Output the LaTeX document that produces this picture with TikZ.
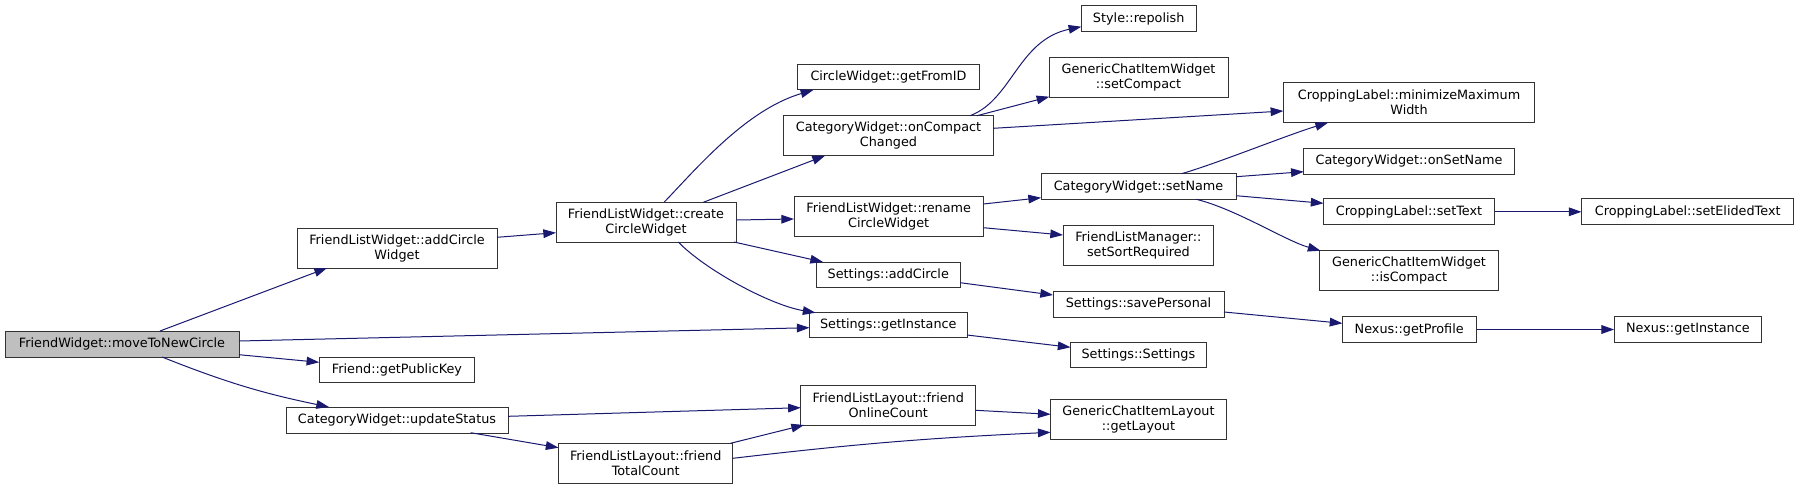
\documentclass[tikz,border=0pt]{standalone}
\usepackage{fontspec}
\setmainfont{DejaVu Sans}
\usetikzlibrary{arrows.meta,calc}
\definecolor{edgec}{HTML}{191970}
\definecolor{boxc}{HTML}{333333}
\definecolor{rootfill}{HTML}{BFBFBF}
\begin{document}
\begin{tikzpicture}[x=0.75pt,y=-0.75pt,
  gbox/.style 2 args={draw=boxc, fill=white, line width=0.75pt, inner sep=0pt,
    minimum width=#1*0.75pt, minimum height=#2*0.75pt, align=center,
    font=\fontsize{9.6pt}{11.25pt}\selectfont},
  rootbox/.style={fill=rootfill},
  edge/.style={draw=edgec, line width=0.75pt, -{Triangle[length=9.5pt,width=6.5pt]}}]
\fill[white] (0,0) rectangle (1799,490);
\useasboundingbox (0,0) rectangle (1799,490);

% column 1
\node[gbox={234}{26}, rootbox] (root) at (122,344) {FriendWidget::moveToNewCircle};
% column 2
\node[gbox={200}{40}] (addC) at (397,248) {FriendListWidget::addCircle\\Widget};
\node[gbox={155.5}{25}] (pubkey) at (397,369.5) {Friend::getPublicKey};
\node[gbox={222}{26}] (upd) at (397,420) {CategoryWidget::updateStatus};
% column 3
\node[gbox={180}{40}] (create) at (646,222) {FriendListWidget::create\\CircleWidget};
\node[gbox={174.5}{40.5}] (total) at (645.7,463.7) {FriendListLayout::friend\\TotalCount};
% column 4
\node[gbox={181.6}{25.3}] (fromid) at (888.5,77.3) {CircleWidget::getFromID};
\node[gbox={209.6}{40}] (oncomp) at (888.5,135.7) {CategoryWidget::onCompact\\Changed};
\node[gbox={189.3}{40}] (rename) at (888.7,216) {FriendListWidget::rename\\CircleWidget};
\node[gbox={143.7}{25.3}] (addcirc) at (888.3,274.7) {Settings::addCircle};
\node[gbox={157.5}{25.3}] (sinst) at (888.3,325.3) {Settings::getInstance};
\node[gbox={175}{39.7}] (online) at (888.3,405.2) {FriendListLayout::friend\\OnlineCount};
% column 5
\node[gbox={114.7}{25.6}] (repolish) at (1138.7,18.5) {Style::repolish};
\node[gbox={179}{40}] (setcomp) at (1138.5,77) {GenericChatItemWidget\\::setCompact};
\node[gbox={195}{25.6}] (setname) at (1138.5,186.5) {CategoryWidget::setName};
\node[gbox={150.7}{40}] (sortreq) at (1138.4,245) {FriendListManager::\\setSortRequired};
\node[gbox={171}{26}] (savepers) at (1138.5,304) {Settings::savePersonal};
\node[gbox={135.8}{25.3}] (settings) at (1138.4,354.7) {Settings::Settings};
\node[gbox={175.8}{40}] (layout) at (1138.5,419.7) {GenericChatItemLayout\\::getLayout};
% column 6
\node[gbox={251.4}{40}] (minimize) at (1409,102.7) {CroppingLabel::minimizeMaximum\\Width};
\node[gbox={210.6}{25.7}] (onsetname) at (1409,161.2) {CategoryWidget::onSetName};
\node[gbox={171}{25.7}] (settext) at (1409,211.8) {CroppingLabel::setText};
\node[gbox={178.8}{40}] (iscomp) at (1409,270.7) {GenericChatItemWidget\\::isCompact};
\node[gbox={133.6}{25.6}] (profile) at (1409.2,329.5) {Nexus::getProfile};
% column 7
\node[gbox={211.5}{25.7}] (elided) at (1687.7,211.8) {CroppingLabel::setElidedText};
\node[gbox={146.6}{25.6}] (ninst) at (1687.9,329.5) {Nexus::getInstance};

% edges
\draw[edge] ($(root)+(38,-13)$) -- ($(addC)+(-70,20)$);
\draw[edge] ($(root)+(117,-3)$) -- ($(sinst)+(-78.8,2.4)$);
\draw[edge] ($(root)+(117,10.7)$) -- ($(pubkey)+(-77.75,-7.2)$);
\draw[edge] ($(root)+(40,13)$) to[bend right=5] ($(upd)+(-68,-13)$);
\draw[edge] ($(addC)+(100,-10.7)$) -- ($(create)+(-90,10.7)$);
\draw[edge] ($(upd)+(111,-3.7)$) -- ($(online)+(-87.5,2.5)$);
\draw[edge] ($(upd)+(73.7,12.7)$) -- ($(total)+(-87.2,-16)$);
\draw[edge] ($(create)+(18.3,-20)$) .. controls +(31,-32) and +(-68,20) .. ($(fromid)+(-75.2,12.7)$);
\draw[edge] ($(create)+(57.3,-19.7)$) -- ($(oncomp)+(-63.5,20)$);
\draw[edge] ($(create)+(90,-2)$) -- ($(rename)+(-94.7,3)$);
\draw[edge] ($(create)+(88,20)$) -- ($(addcirc)+(-65.3,-12.7)$);
\draw[edge] ($(create)+(32.3,20)$) .. controls +(26.7,27.7) and +(-45.5,-7.7) .. ($(sinst)+(-72.8,-12.6)$);
\draw[edge] ($(oncomp)+(81.5,-20)$) .. controls +(42,-15.7) and +(-63.3,13.3) .. ($(repolish)+(-57.4,8.2)$);
\draw[edge] ($(oncomp)+(88.5,-20)$) -- ($(setcomp)+(-89.2,19.7)$);
\draw[edge] ($(oncomp)+(104.8,-7.4)$) -- ($(minimize)+(-125.7,8.3)$);
\draw[edge] ($(rename)+(94.6,-12)$) -- ($(setname)+(-97.5,11.2)$);
\draw[edge] ($(rename)+(94.6,11.7)$) -- ($(sortreq)+(-75.4,-10)$);
\draw[edge] ($(setname)+(43,-12.8)$) .. controls +(35,-10) and +(-40,12) .. ($(minimize)+(-81,20)$);
\draw[edge] ($(setname)+(97.5,-9.8)$) -- ($(onsetname)+(-105.3,10.5)$);
\draw[edge] ($(setname)+(97.5,9.2)$) -- ($(settext)+(-85.5,-8.5)$);
\draw[edge] ($(setname)+(57.9,12.8)$) .. controls +(40,10) and +(-35,-10) .. ($(iscomp)+(-88.5,-20)$);
\draw[edge] (settext.east) -- (elided.west);
\draw[edge] ($(addcirc)+(71.8,8)$) -- ($(savepers)+(-85.5,-9)$);
\draw[edge] ($(savepers)+(85.5,8)$) -- ($(profile)+(-66.8,-6.2)$);
\draw[edge] (profile.east) -- (ninst.west);
\draw[edge] ($(sinst)+(78.7,9.7)$) -- ($(settings)+(-67.9,-7.4)$);
\draw[edge] ($(online)+(87.4,5.1)$) -- ($(layout)+(-87.9,-5.4)$);
\draw[edge] ($(total)+(84.8,-20.4)$) -- ($(online)+(-84.3,19.8)$);
\draw[edge] ($(total)+(87.1,-5.4)$) to[bend left=2] ($(layout)+(-87.9,12.6)$);
\end{tikzpicture}
\end{document}
